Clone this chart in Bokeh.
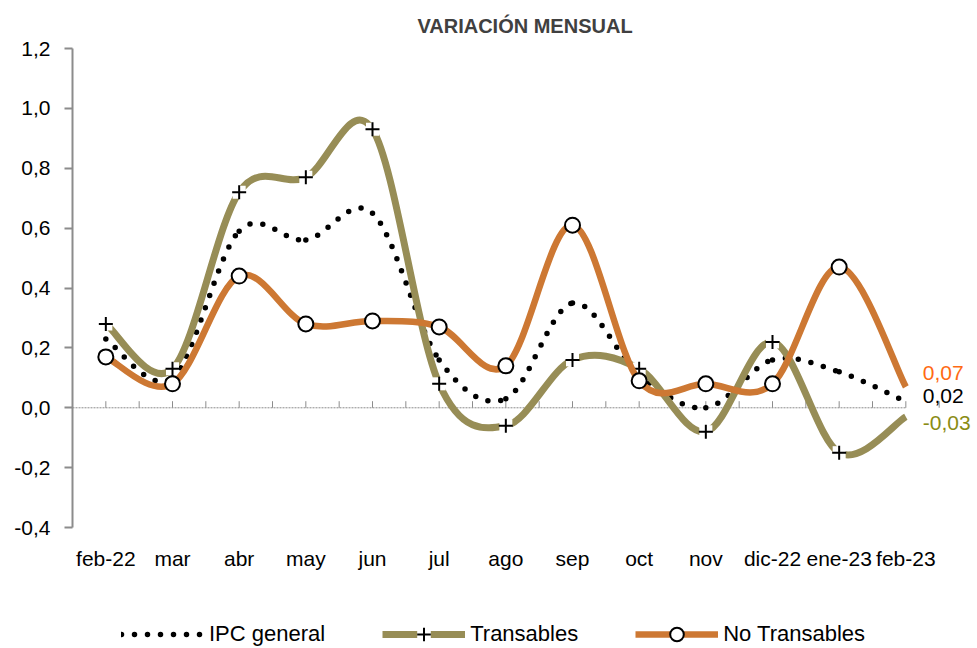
from bokeh.plotting import figure
from bokeh.models import ColumnDataSource, FixedTicker, Legend, LegendItem, Range1d
from bokeh.core.properties import value
from bokeh.embed import file_html
from bokeh.resources import INLINE

# ---------------- data ----------------
months = ["feb-22", "mar", "abr", "may", "jun", "jul", "ago", "sep", "oct",
          "nov", "dic-22", "ene-23", "feb-23"]
ipc_general = [0.23, 0.10, 0.59, 0.56, 0.65, 0.16, 0.03, 0.35, 0.11, 0.00, 0.16, 0.12, 0.02]
transables = [0.28, 0.13, 0.72, 0.77, 0.93, 0.08, -0.06, 0.16, 0.13, -0.08, 0.22, -0.15, -0.03]
no_transables = [0.17, 0.08, 0.44, 0.28, 0.29, 0.27, 0.14, 0.61, 0.09, 0.08, 0.08, 0.47, 0.07]
y_ticks = [-0.4, -0.2, 0.0, 0.2, 0.4, 0.6, 0.8, 1.0, 1.2]
y_tick_labels = ["-0,4", "-0,2", "0,0", "0,2", "0,4", "0,6", "0,8", "1,0", "1,2"]
title_text = "VARIACIÓN MENSUAL"
series_names = ["IPC general", "Transables", "No Transables"]

FONT = "Liberation Sans"
OLIVE = "#978D56"
ORANGE = "#CD7833"
GRAY = "#8C8C8C"

n = len(months)
xs = list(range(n))
Y_MIN, Y_MAX = y_ticks[0], y_ticks[-1]


def smooth_source(vals):
    """Catmull-Rom (Excel style smoothing) bezier segments through the data points."""
    pts = list(zip(xs, vals))
    ext = [pts[0]] + pts + [pts[-1]]
    d = dict(x0=[], y0=[], x1=[], y1=[], cx0=[], cy0=[], cx1=[], cy1=[])
    for i in range(n - 1):
        p_prev, p0, p1, p_next = ext[i], ext[i + 1], ext[i + 2], ext[i + 3]
        d["x0"].append(p0[0]); d["y0"].append(p0[1])
        d["x1"].append(p1[0]); d["y1"].append(p1[1])
        d["cx0"].append(p0[0] + (p1[0] - p_prev[0]) / 6.0)
        d["cy0"].append(p0[1] + (p1[1] - p_prev[1]) / 6.0)
        d["cx1"].append(p1[0] - (p_next[0] - p0[0]) / 6.0)
        d["cy1"].append(p1[1] - (p_next[1] - p0[1]) / 6.0)
    return ColumnDataSource(d)


# plot area: value axis spans 48..527 px; the frame continues below to hold
# the category labels and the legend
p = figure(width=977, height=648, output_backend="svg", toolbar_location=None,
           x_range=Range1d(-0.5, 13.075), y_range=Range1d(-0.804, Y_MAX),
           min_border_left=72, min_border_right=0, min_border_top=48,
           min_border_bottom=0, title=title_text)
p.background_fill_color = "white"
p.border_fill_color = "white"
p.outline_line_color = None
p.xgrid.visible = False
p.ygrid.visible = False

p.title.align = "center"
p.title.text_font = FONT
p.title.text_font_size = "20px"
p.title.text_font_style = "bold"
p.title.text_color = "#404040"
p.title.standoff = 24

# y axis
ya = p.yaxis[0]
ya.ticker = FixedTicker(ticks=y_ticks)
ya.bounds = (Y_MIN, Y_MAX)
ya.major_label_overrides = {t: l for t, l in zip(y_ticks, y_tick_labels)}
ya.axis_line_color = GRAY
ya.axis_line_width = 2
ya.major_tick_line_color = GRAY
ya.major_tick_line_width = 2
ya.major_tick_in = 0
ya.major_tick_out = 8
ya.minor_tick_line_color = None
ya.major_label_standoff = 14
ya.major_label_text_font = FONT
ya.major_label_text_font_size = "21px"
ya.major_label_text_color = "black"

# x axis (labels only), placed just under the bottom of the value axis
xa = p.xaxis[0]
xa.fixed_location = Y_MIN
xa.ticker = FixedTicker(ticks=xs)
xa.major_label_overrides = {i: m for i, m in enumerate(months)}
xa.axis_line_color = None
xa.major_tick_line_color = None
xa.minor_tick_line_color = None
xa.major_tick_out = 0
xa.major_tick_in = 0
xa.major_label_standoff = 19
xa.major_label_text_font = FONT
xa.major_label_text_font_size = "21px"
xa.major_label_text_color = "black"

# zero line with small tick marks at each category and half category
p.segment(x0=[-0.5], x1=[xs[-1]], y0=[0], y1=[0], line_color=GRAY,
          line_width=1, line_dash="2 1")
half_ticks = [i / 2.0 for i in range(0, 2 * n)]
p.segment(x0=half_ticks, x1=half_ticks, y0=[0] * len(half_ticks),
          y1=[0.022] * len(half_ticks), line_color=GRAY, line_width=1)

# series
r_ipc = p.bezier(x0="x0", y0="y0", x1="x1", y1="y1", cx0="cx0", cy0="cy0",
                 cx1="cx1", cy1="cy1", source=smooth_source(ipc_general),
                 line_color="black", line_width=5.5, line_dash="0 13",
                 line_cap="round")

r_t = p.bezier(x0="x0", y0="y0", x1="x1", y1="y1", cx0="cx0", cy0="cy0",
               cx1="cx1", cy1="cy1", source=smooth_source(transables),
               line_color=OLIVE, line_width=7, line_cap="butt")
r_t_bg = p.scatter(x=xs[:-1], y=transables[:-1], marker="square", size=13,
                   fill_color="white", line_color=None)
r_t_mk = p.scatter(x=xs[:-1], y=transables[:-1], marker="cross", size=14,
                   line_color="black", line_width=2)

r_nt = p.bezier(x0="x0", y0="y0", x1="x1", y1="y1", cx0="cx0", cy0="cy0",
                cx1="cx1", cy1="cy1", source=smooth_source(no_transables),
                line_color=ORANGE, line_width=6.5, line_cap="butt")
r_nt_mk = p.scatter(x=xs[:-1], y=no_transables[:-1], marker="circle", size=15,
                    fill_color="white", line_color="black", line_width=2)

# end value labels
last_vals = [no_transables[-1], ipc_general[-1], transables[-1]]
lab_src = ColumnDataSource(dict(
    x=[xs[-1]] * 3,
    y=last_vals,
    text=[f"{v:.2f}".replace(".", ",") for v in last_vals],
    color=["#FF6A13", "black", "#8A8C14"],
    yoff=[-14, -6, 6],
))
p.text(x="x", y="y", text="text", source=lab_src, text_color="color",
       x_offset=17, y_offset="yoff", text_font=value(FONT),
       text_font_size="21px", text_baseline="middle", text_align="left")

legend = Legend(items=[
    LegendItem(label=series_names[0], renderers=[r_ipc]),
    LegendItem(label=series_names[1], renderers=[r_t, r_t_bg, r_t_mk]),
    LegendItem(label=series_names[2], renderers=[r_nt, r_nt_mk]),
], orientation="horizontal", location=(49, -3))
legend.label_text_font = FONT
legend.label_text_font_size = "22px"
legend.label_text_color = "black"
legend.glyph_width = 83
legend.glyph_height = 34
legend.label_standoff = 5
legend.spacing = 57
legend.padding = 0
legend.margin = 0
legend.border_line_color = None
legend.background_fill_alpha = 0
p.add_layout(legend, "center")

open("out.html", "w").write(file_html(p, INLINE))
